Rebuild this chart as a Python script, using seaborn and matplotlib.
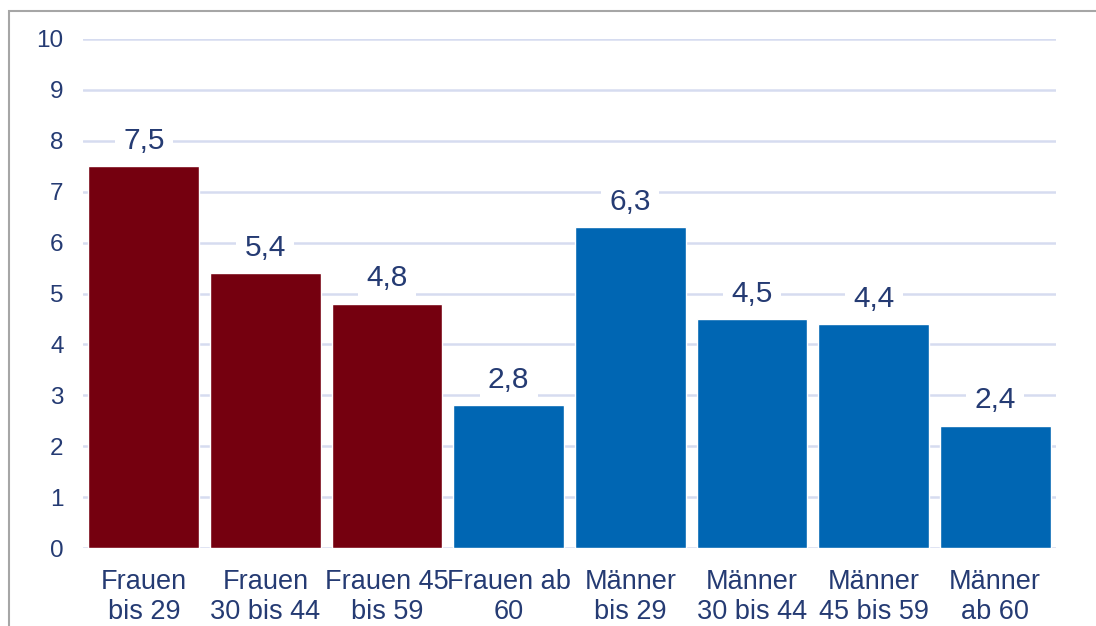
import pandas as pd
import seaborn as sns
import matplotlib.pyplot as plt
from matplotlib.patches import Rectangle

# data
groups = ['Frauen\nbis 29', 'Frauen\n30 bis 44', 'Frauen 45\nbis 59', 'Frauen ab\n60',
          'Männer\nbis 29', 'Männer\n30 bis 44', 'Männer\n45 bis 59', 'Männer\nab 60']
values = [7.5, 5.4, 4.8, 2.8, 6.3, 4.5, 4.4, 2.4]
labels = ['7,5', '5,4', '4,8', '2,8', '6,3', '4,5', '4,4', '2,4']
bar_colors = ['#75000F', '#75000F', '#75000F', '#0066B3',
              '#0066B3', '#0066B3', '#0066B3', '#0066B3']

df = pd.DataFrame({'group': groups, 'value': values})

sns.set_style('white')
plt.rcParams['font.family'] = ['Liberation Sans', 'DejaVu Sans']
navy = '#253B73'

fig = plt.figure(figsize=(10.96, 6.26), dpi=100)
ax = fig.add_axes([0.0757, 0.1246, 0.8878, 0.8131])

sns.barplot(data=df, x='group', y='value', hue='group', palette=bar_colors,
            width=0.91, legend=False, saturation=1, ax=ax, zorder=3)

ax.set_ylim(0, 10)
ax.set_xlim(-0.5, 7.5)
ax.set_yticks(range(0, 11))
ax.yaxis.grid(True, color='#D6DCF0', linewidth=1.8, zorder=0)
ax.set_axisbelow(True)
for s in ax.spines.values():
    s.set_visible(False)
ax.tick_params(axis='y', length=0, labelsize=17.5, labelcolor=navy, pad=14)
ax.tick_params(axis='x', length=0, labelsize=19.5, labelcolor=navy, pad=15)
for lab in ax.get_xticklabels():
    lab.set_linespacing(1.22)
ax.set_xlabel('')
ax.set_ylabel('')

# value labels with white box over the gridlines
for i, (v, t) in enumerate(zip(values, labels)):
    ax.text(i, v + 0.5, t, ha='center', va='center', fontsize=21.5, color=navy,
            bbox=dict(facecolor='white', edgecolor='none', pad=6), zorder=4)

# outer frame
fig.patches.append(Rectangle((9 / 1096, -0.1), 1.2, (626 - 11) / 626 + 0.1,
                             transform=fig.transFigure, fill=False,
                             edgecolor='#A6A6A6', linewidth=1.5))

fig.savefig('out.png', dpi=100)
